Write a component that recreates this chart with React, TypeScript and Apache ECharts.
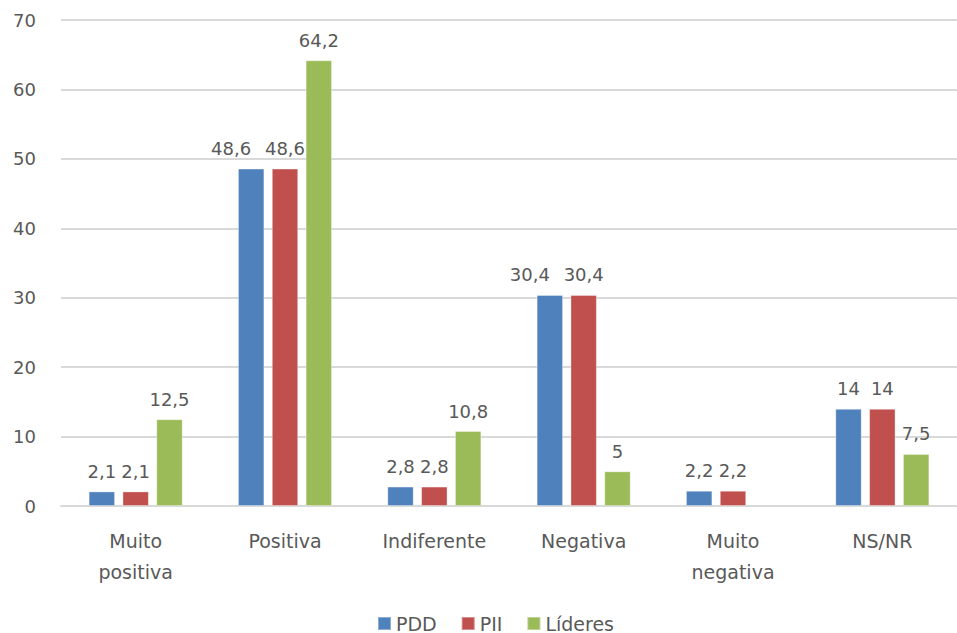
import React, { useEffect, useRef } from "react";
import * as echarts from "echarts";

const categories = ["Muito\npositiva", "Positiva", "Indiferente", "Negativa", "Muito\nnegativa", "NS/NR"];
const seriesNames = ["PDD", "PII", "Líderes"];
const pdd = [2.1, 48.6, 2.8, 30.4, 2.2, 14];
const pii = [2.1, 48.6, 2.8, 30.4, 2.2, 14];
const lideres: (number | null)[] = [12.5, 64.2, 10.8, 5, null, 7.5];
const colors = ["#4F81BD", "#C0504D", "#9BBB59"];
const yTicks = { min: 0, max: 70, interval: 10 };

const FONT = "'DejaVu Sans', sans-serif";
const TEXT = "#595959";

export default function App() {
  const ref = useRef<HTMLDivElement>(null);
  useEffect(() => {
    if (!ref.current) return;
    const chart = echarts.init(ref.current, null, { renderer: "svg" });
    const mk = (name: string, data: (number | null)[], color: string, idx: number) => ({
      name,
      type: "bar",
      data,
      itemStyle: { color, borderColor: "rgba(255,255,255,0.35)", borderWidth: 1 },
      barGap: "28%",
      barCategoryGap: "37%",
      label: {
        show: true,
        position: "top",
        distance: 11,
        color: TEXT,
        fontFamily: FONT,
        fontSize: 18,
        formatter: (p: any) => (p.value == null ? "" : String(p.value).replace(".", ",")),
      },
      labelLayout:
        idx === 0
          ? (p: any) => (p.labelRect && p.labelRect.width > 34 ? { dx: -p.labelRect.width / 2 } : {})
          : undefined,
    });
    chart.setOption({
      animation: false,
      backgroundColor: "#ffffff",
      textStyle: { fontFamily: FONT },
      grid: { left: 61, width: 908, top: 20, bottom: 127, containLabel: false },
      legend: {
        data: seriesNames,
        left: 372,
        top: 609,
        icon: "rect",
        itemWidth: 13,
        itemHeight: 13,
        itemGap: 24,
        textStyle: { color: TEXT, fontFamily: FONT, fontSize: 19 },
      },
      xAxis: {
        type: "category",
        data: categories,
        axisLine: { show: true, lineStyle: { color: "#D9D9D9", width: 2 } },
        axisTick: { show: false },
        axisLabel: {
          color: TEXT,
          fontFamily: FONT,
          fontSize: 19,
          lineHeight: 31,
          margin: 19,
          interval: 0,
        },
      },
      yAxis: {
        type: "value",
        min: yTicks.min,
        max: yTicks.max,
        interval: yTicks.interval,
        axisLine: { show: false },
        axisTick: { show: false },
        splitLine: { lineStyle: { color: "#D9D9D9", width: 2 } },
        axisLabel: { color: TEXT, fontFamily: FONT, fontSize: 18, margin: 25 },
      },
      series: [
        mk(seriesNames[0], pdd, colors[0], 0),
        mk(seriesNames[1], pii, colors[1], 1),
        mk(seriesNames[2], lideres, colors[2], 2),
      ],
    });
    return () => chart.dispose();
  }, []);
  return (
    <div
      ref={ref}
      style={{ position: "fixed", left: 0, top: 0, width: 957, height: 633, background: "#fff" }}
    />
  );
}
